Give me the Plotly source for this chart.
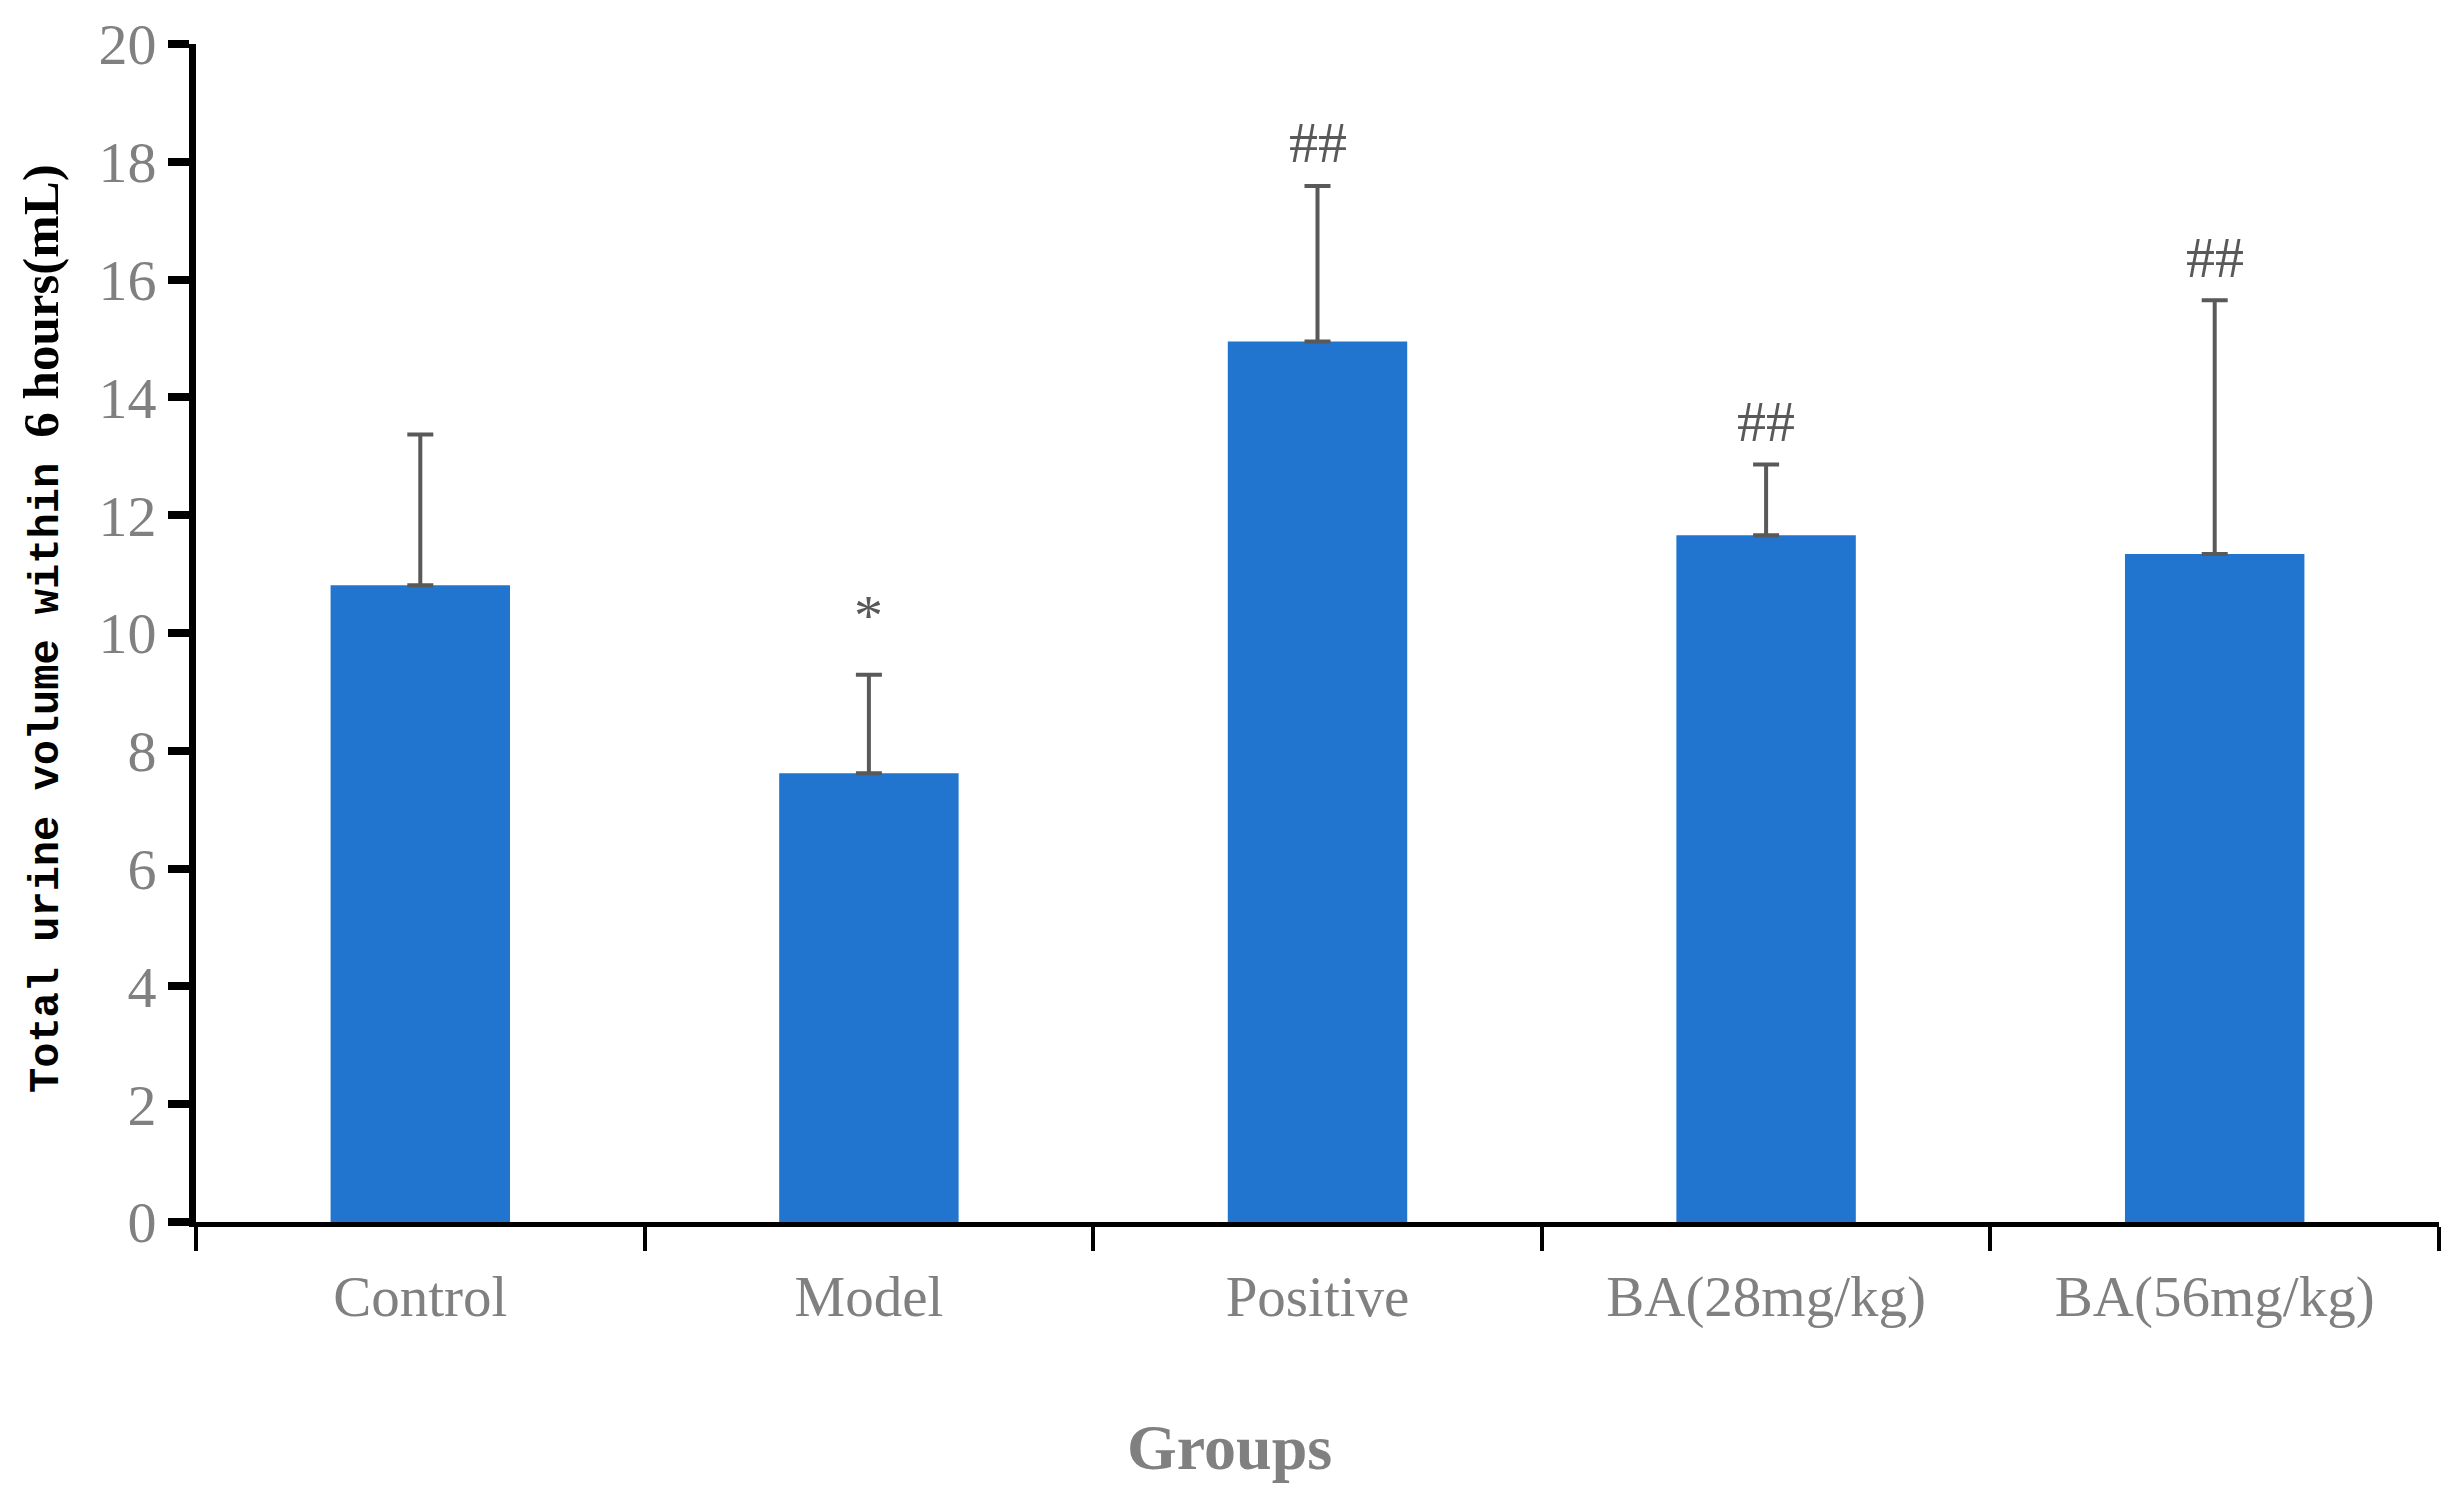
import plotly.graph_objects as go

groups = ["Control", "Model", "Positive", "BA(28mg/kg)", "BA(56mg/kg)"]
means = [10.81, 7.62, 14.95, 11.66, 11.34]
sds = [2.56, 1.67, 2.64, 1.20, 4.31]
marks = ["", "*", "##", "##", "##"]
mark_shift = [0, 59, 43, 43, 43]

W, H = 2462, 1507
L, R, T, B = 196, 23, 42, 285
PW, PH = W - L - R, H - T - B

fig = go.Figure()
fig.add_trace(go.Bar(
    x=groups, y=means, width=0.4,
    marker=dict(color="#2275CF", line=dict(width=0)),
    error_y=dict(type="data", symmetric=False, array=sds,
                 arrayminus=[0] * len(sds), color="#595959",
                 thickness=4, width=13),
    showlegend=False,
))

for g, m, s, t, sh in zip(groups, means, sds, marks, mark_shift):
    if t:
        fig.add_annotation(x=g, y=m + s, text=t, showarrow=False,
                           yanchor="middle", yshift=sh,
                           font=dict(family="Liberation Serif", size=58, color="#595959"))

# x-axis title
fig.add_annotation(xref="paper", yref="paper", x=(1229 - L) / PW,
                   y=(H - B - 1448) / PH, text="<b>Groups</b>",
                   showarrow=False, xanchor="center", yanchor="middle",
                   font=dict(family="Liberation Serif", size=64, color="#808080"))

# y-axis title
ytitle = ('<span style="font-family:Liberation Mono;font-size:42px;font-weight:bold">'
          'Total urine volume within </span>'
          '<b>6 hours(mL)</b>')
fig.add_annotation(xref="paper", yref="paper", x=(42 - L) / PW,
                   y=(H - B - 628) / PH, text=ytitle, textangle=-90,
                   showarrow=False, xanchor="center", yanchor="middle",
                   font=dict(family="Liberation Serif", size=51, color="black"))

fig.update_layout(
    width=W, height=H,
    margin=dict(l=L, r=R, t=T, b=B),
    paper_bgcolor="white", plot_bgcolor="white",
    xaxis=dict(
        type="category", range=[-0.5, 4.5],
        showline=True, linecolor="black", linewidth=5,
        ticks="outside", tickson="boundaries", ticklen=24, tickwidth=4,
        tickcolor="black", showgrid=False, zeroline=False,
        tickfont=dict(family="Liberation Serif", size=57, color="#808080"),
        ticklabelstandoff=21,
    ),
    yaxis=dict(
        range=[0, 20], tickmode="array", tickvals=list(range(0, 21, 2)),
        showline=True, linecolor="black", linewidth=7,
        ticks="outside", ticklen=21, tickwidth=8, tickcolor="black",
        showgrid=False, zeroline=False,
        tickfont=dict(family="Liberation Serif", size=58, color="#808080"),
    ),
)

fig.write_html("out.html", config={"displayModeBar": False},
               post_script="document.body.style.margin='0';")
